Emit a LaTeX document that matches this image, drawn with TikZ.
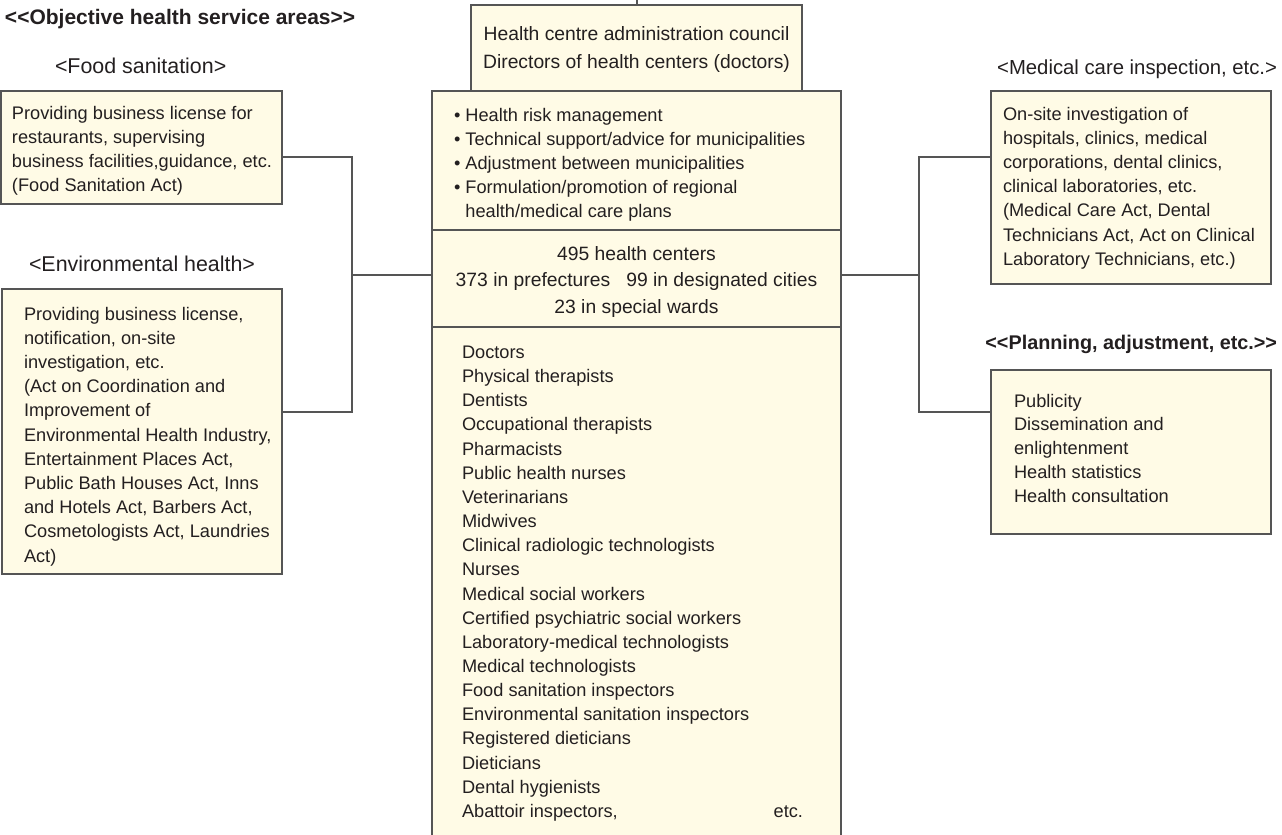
\documentclass[tikz,border=0pt]{standalone}
\usepackage{fontspec}
\setmainfont{Liberation Sans}
\definecolor{boxfill}{HTML}{FFFBE6}
\definecolor{boxline}{HTML}{555555}
\definecolor{ink}{HTML}{231F20}
\begin{document}
\begin{tikzpicture}[x=1pt,y=-1pt,
  every node/.style={text=ink, inner sep=0pt, outer sep=0pt},
  box/.style={draw=boxline, fill=boxfill, line width=1.3pt, anchor=north west},
  link/.style={draw=boxline, line width=1.3pt},
  body/.style={anchor=north west, align=left, font=\fontsize{18.2}{24.2}\selectfont, execute at begin node=\strut},
  head/.style={anchor=base west, font=\fontsize{21.4}{25}\selectfont},
  title/.style={anchor=base west, font=\fontsize{21}{25}\selectfont\bfseries}]
\clip (0,0) rectangle (1282,835);

% boxes
\node[box, minimum width=331pt, minimum height=86pt]  (council)  at (471,5)   {};
\node[box, minimum width=409pt, minimum height=139pt] (risk)     at (432,91)  {};
\node[box, minimum width=409pt, minimum height=97pt]  (centers)  at (432,230) {};
\node[box, minimum width=409pt, minimum height=530pt] (staff)    at (432,327) {};
\node[box, minimum width=281pt, minimum height=113pt] (food)     at (1,91)    {};
\node[box, minimum width=280pt, minimum height=285pt] (env)      at (2,289)   {};
\node[box, minimum width=280pt, minimum height=193pt] (medical)  at (991,91)  {};
\node[box, minimum width=280pt, minimum height=164pt] (planning) at (991,370) {};

% connector junctions
\coordinate (top) at (637,0);
\coordinate (lt) at (352,157);
\coordinate (lm) at (352,275);
\coordinate (lb) at (352,412);
\coordinate (rt) at (919,157);
\coordinate (rm) at (919,275);
\coordinate (rb) at (919,412);

\draw[link] (council.north -| top) -- (top);
\draw[link] (food.east |- lt) -- (lt) -- (lb) -- (env.east |- lb);
\draw[link] (lm) -- (centers.west |- lm);
\draw[link] (medical.west |- rt) -- (rt) -- (rb) -- (planning.west |- rb);
\draw[link] (centers.east |- rm) -- (rm);

% headings
\node[title] (t1) at (5,24.5) {<{}<Objective health service areas>{}>};
\node[head]  (h1) at (55,73.5) {<Food sanitation>};
\node[head]  (h2) at (29,271.5) {<Environmental health>};
\node[head, anchor=base east, font=\fontsize{20.3}{25}\selectfont] (h3) at (1277,74.5) {<Medical care inspection, etc.>};
\node[title, anchor=base east, font=\fontsize{19.8}{25}\selectfont\bfseries] (t2) at (1277,349.5) {<{}<Planning, adjustment, etc.>{}>};

% texts of the central column
\node[anchor=north, align=center, font=\fontsize{19.3}{28}\selectfont, execute at begin node=\strut] (counciltext) at (636.5,27)
  {Health centre administration council\\Directors of health centers (doctors)};
\node[body] (risktext) at (454,108)
  {• Health risk management\\
   • Technical support/advice for municipalities\\
   • Adjustment between municipalities\\
   • Formulation/promotion of regional\\
   \phantom{• }health/medical care plans};
\node[anchor=north, align=center, font=\fontsize{19.3}{26.5}\selectfont, execute at begin node=\strut] (centerstext) at (636.5,246.5)
  {495 health centers\\373 in prefectures\ \ \ 99 in designated cities\\23 in special wards};
\node[body, font=\fontsize{18.2}{24.15}\selectfont] (stafftext) at (462,346)
  {Doctors\\Physical therapists\\Dentists\\Occupational therapists\\Pharmacists\\
   Public health nurses\\Veterinarians\\Midwives\\Clinical radiologic technologists\\
   Nurses\\Medical social workers\\Certified psychiatric social workers\\
   Laboratory-medical technologists\\Medical technologists\\Food sanitation inspectors\\
   Environmental sanitation inspectors\\Registered dieticians\\Dieticians\\Dental hygienists\\
   \makebox[341pt][l]{Abattoir inspectors,\hfill etc.}};

% texts of the side boxes
\node[body] (foodtext) at (12,106)
  {Providing business license for\\restaurants, supervising\\business facilities,guidance, etc.\\(Food Sanitation Act)};
\node[body] (envtext) at (24,307)
  {Providing business license,\\notification, on-site\\investigation, etc.\\(Act on Coordination and\\Improvement of\\
   Environmental Health Industry,\\Entertainment Places Act,\\Public Bath Houses Act, Inns\\
   and Hotels Act, Barbers Act,\\Cosmetologists Act, Laundries\\Act)};
\node[body] (medtext) at (1003,107)
  {On-site investigation of\\hospitals, clinics, medical\\corporations, dental clinics,\\clinical laboratories, etc.\\
   (Medical Care Act, Dental\\Technicians Act, Act on Clinical\\Laboratory Technicians, etc.)};
\node[body, font=\fontsize{18.2}{23.8}\selectfont] (plantext) at (1014,394)
  {Publicity\\Dissemination and\\enlightenment\\Health statistics\\Health consultation};
\end{tikzpicture}
\end{document}
